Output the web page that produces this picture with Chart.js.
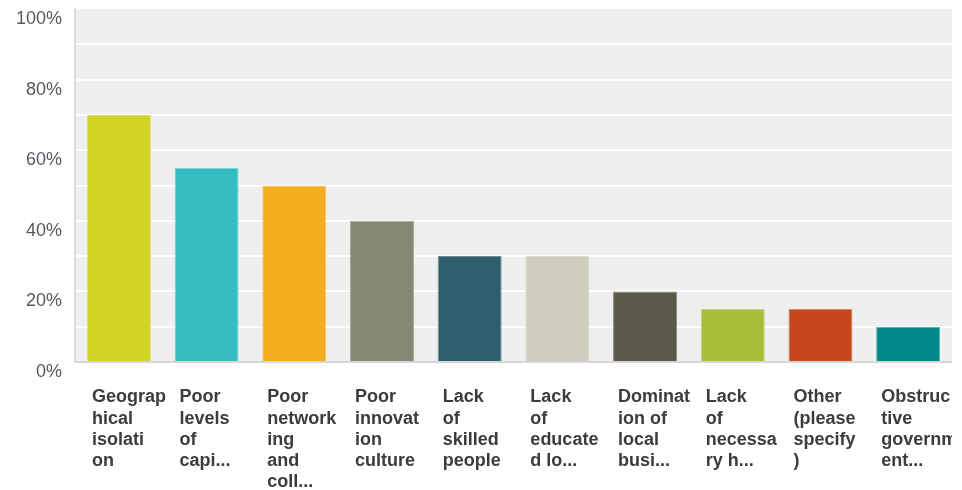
<!DOCTYPE html>
<html>
<head>
<meta charset="utf-8">
<script src="https://cdn.jsdelivr.net/npm/chart.js@4"></script>
<style>
  html, body { margin: 0; padding: 0; background: #fff; }
  #wrap { width: 952px; height: 490px; position: relative; }
</style>
</head>
<body>
<div id="wrap"><canvas id="grafico"></canvas></div>
<script>
// categorias (já quebradas em linhas) e percentuais
const categorias = [
    ['Geograp', 'hical', 'isolati', 'on'],
    ['Poor', 'levels', 'of', 'capi...'],
    ['Poor', 'network', 'ing', 'and', 'coll...'],
    ['Poor', 'innovat', 'ion', 'culture'],
    ['Lack', 'of', 'skilled', 'people'],
    ['Lack', 'of', 'educate', 'd lo...'],
    ['Dominat', 'ion of', 'local', 'busi...'],
    ['Lack', 'of', 'necessa', 'ry h...'],
    ['Other', '(please', 'specify', ')'],
    ['Obstruc', 'tive', 'governm', 'ent...']
];
const percentuais = [70, 55, 50, 40, 30, 30, 20, 15, 15, 10];
const cores = ['#d0d427', '#33bdbf', '#f6ac1f', '#878874', '#2e5f6c',
               '#cfcdbf', '#5c5a4a', '#a9bd38', '#c8461c', '#00888a'];
const bordas = ['#dde07a', '#7fd4d5', '#f8c870', '#a8a99a', '#6f8f98',
                '#dddcd2', '#8a897d', '#c6d57f', '#dc8767', '#5fb0b2'];
const ticksY = [0, 20, 40, 60, 80, 100];

// fundo cinza da área do gráfico
const fundoArea = {
    id: 'fundoArea',
    beforeDraw: (chart) => {
        const { ctx, chartArea: a } = chart;
        ctx.save();
        ctx.fillStyle = '#efefef';
        ctx.fillRect(a.left, a.top, a.right - a.left, a.bottom - a.top);
        ctx.restore();
    }
};

new Chart(document.getElementById('grafico'), {
    type: 'bar',
    data: {
        labels: categorias,
        datasets: [{
            data: percentuais,
            backgroundColor: cores,
            borderColor: bordas,
            borderWidth: 1,
            categoryPercentage: 1,
            barPercentage: 0.73
        }]
    },
    options: {
        responsive: true,
        maintainAspectRatio: false,
        animation: false,
        layout: { padding: { top: 9, left: 3, right: 0, bottom: 0 } },
        plugins: { legend: { display: false }, tooltip: { enabled: false } },
        scales: {
            x: {
                grid: { display: false, drawTicks: false },
                border: { color: '#d6d6d6', width: 2 },
                ticks: {
                    color: '#3c3c3c',
                    font: { family: 'Liberation Sans, Arial, sans-serif', size: 18, weight: 'bold', lineHeight: 1.17 },
                    align: 'start',
                    labelOffset: -27,
                    padding: 25,
                    maxRotation: 0,
                    autoSkip: false
                },
                afterFit: (scale) => {
                    scale.paddingLeft = 0;
                    scale.paddingRight = 0;
                    scale.height = 128;
                }
            },
            y: {
                min: 0,
                max: 100,
                grid: {
                    drawTicks: false,
                    lineWidth: 2,
                    color: (c) => (c.tick.value === 0 || c.tick.value === 100) ? 'rgba(0,0,0,0)' : '#ffffff'
                },
                border: { color: '#dcdcdc', width: 2 },
                ticks: {
                    stepSize: 10,
                    color: '#555a60',
                    font: { family: 'Liberation Sans, Arial, sans-serif', size: 18 },
                    padding: 13,
                    labelOffset: 10,
                    callback: (v) => ticksY.includes(v) ? v + '%' : ''
                },
                afterFit: (scale) => { scale.paddingTop = 0; scale.paddingBottom = 0; }
            }
        }
    },
    plugins: [fundoArea]
});
</script>
</body>
</html>
